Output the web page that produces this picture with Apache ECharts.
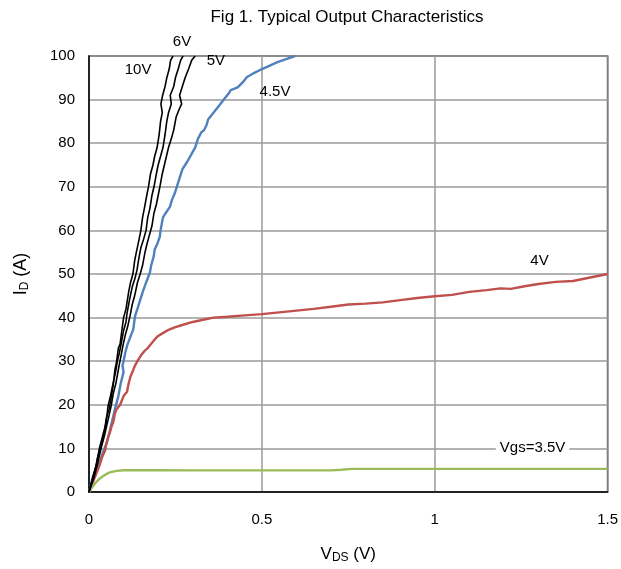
<!DOCTYPE html>
<html><head><meta charset="utf-8">
<script src="https://cdn.jsdelivr.net/npm/echarts@6/dist/echarts.min.js"></script>
<style>html,body{margin:0;padding:0;background:#fff}#c{width:621px;height:569px}</style>
</head><body><div id="c"></div>
<script>
const xTicks = [0, 0.5, 1, 1.5];
const yTicks = [0,10,20,30,40,50,60,70,80,90,100];

const v10 = [[0,0],[0.01,3],[0.02,6],[0.025,8],[0.035,10.5],[0.045,14],[0.05,17],[0.058,19],[0.065,22],[0.07,24.5],[0.075,28],[0.08,30],[0.085,33],[0.09,34],[0.095,37],[0.1,40],[0.107,42],[0.115,46],[0.12,48],[0.127,50],[0.132,53],[0.137,55],[0.145,58],[0.15,60],[0.155,63],[0.16,65],[0.167,68],[0.172,70],[0.178,73],[0.185,75],[0.19,77],[0.197,79],[0.203,82],[0.207,85],[0.212,87],[0.208,89],[0.213,91],[0.22,93],[0.225,95],[0.232,97],[0.236,99],[0.243,100]];
const v6 = [[0,0],[0.012,3.5],[0.022,6.5],[0.03,10],[0.04,13],[0.05,16],[0.055,19.7],[0.062,22],[0.07,25],[0.078,28],[0.082,30],[0.088,32],[0.093,34],[0.1,37],[0.107,39],[0.11,41],[0.117,44],[0.125,47],[0.133,49],[0.139,51],[0.145,54],[0.15,56],[0.158,58],[0.165,60],[0.17,63],[0.176,65],[0.182,68],[0.188,70],[0.195,73],[0.2,75],[0.207,77],[0.214,79],[0.22,82],[0.225,85],[0.23,87],[0.238,89],[0.235,91],[0.245,93],[0.25,95],[0.258,97],[0.265,99],[0.272,100]];
const v5 = [[0,0],[0.015,3.5],[0.025,6.5],[0.035,10],[0.045,13],[0.055,16.5],[0.064,19.7],[0.07,22.5],[0.078,25],[0.087,29],[0.092,31],[0.098,33.5],[0.105,36],[0.112,38],[0.119,40.5],[0.125,43],[0.132,45],[0.14,48],[0.148,50],[0.155,52],[0.162,55],[0.168,57],[0.175,59],[0.182,61],[0.188,64],[0.195,66],[0.2,68],[0.205,70],[0.212,73],[0.218,75],[0.224,77],[0.23,79],[0.238,81],[0.245,83],[0.252,86],[0.262,88],[0.268,89],[0.262,91],[0.27,93],[0.278,95],[0.288,97],[0.297,99],[0.307,100]];
const v45 = [[0,0],[0.012,3.7],[0.022,5.5],[0.032,7],[0.04,9],[0.052,11.4],[0.06,14],[0.066,16],[0.075,19],[0.085,22],[0.092,25],[0.1,27.5],[0.097,29],[0.1,30],[0.105,32],[0.11,33.5],[0.117,35],[0.128,37.3],[0.133,40.3],[0.14,42],[0.148,44],[0.156,46],[0.165,48],[0.176,50.3],[0.18,52],[0.187,54],[0.19,55.6],[0.198,57],[0.205,58.6],[0.207,60],[0.214,63],[0.222,64],[0.234,65.4],[0.24,67],[0.248,68.5],[0.254,70],[0.262,72],[0.27,74],[0.278,75],[0.286,76],[0.293,77],[0.3,78],[0.307,79],[0.315,81],[0.325,82.5],[0.333,83],[0.34,84.2],[0.345,85.5],[0.36,87],[0.375,88.5],[0.39,90],[0.405,91.5],[0.41,92.2],[0.43,92.8],[0.445,94],[0.457,95.2],[0.475,96],[0.495,96.8],[0.515,97.5],[0.545,98.6],[0.57,99.3],[0.596,100]];
const v4 = [[0,0],[0.01,2],[0.02,4],[0.03,6],[0.038,8],[0.046,9.4],[0.05,11],[0.055,12.5],[0.06,13.5],[0.065,15],[0.07,16],[0.075,18],[0.08,19],[0.09,20],[0.095,21],[0.1,22],[0.11,23],[0.115,25],[0.12,26.5],[0.128,28],[0.133,29],[0.14,30],[0.15,31.3],[0.16,32.3],[0.17,33],[0.18,34],[0.19,35],[0.2,35.8],[0.215,36.5],[0.23,37.2],[0.25,37.8],[0.27,38.3],[0.3,39],[0.33,39.5],[0.36,40],[0.4,40.2],[0.45,40.5],[0.5,40.8],[0.55,41.2],[0.6,41.6],[0.65,42],[0.7,42.5],[0.75,43],[0.8,43.2],[0.85,43.5],[0.9,44],[0.95,44.5],[1.0,44.9],[1.05,45.2],[1.1,45.9],[1.15,46.3],[1.19,46.7],[1.22,46.6],[1.26,47.2],[1.3,47.7],[1.35,48.2],[1.4,48.4],[1.45,49.2],[1.5,50]];
const v35 = [[0,0],[0.01,1.2],[0.02,2.2],[0.03,3],[0.04,3.6],[0.05,4.1],[0.06,4.5],[0.08,4.85],[0.1,5],[0.2,5],[0.3,4.95],[0.5,4.95],[0.7,4.95],[0.73,5.1],[0.76,5.3],[1.0,5.3],[1.5,5.3]];

const seriesNames = ['10V','6V','5V','4.5V','4V','Vgs=3.5V'];
const labelPos = [[0.142,96.8],[0.269,100],[0.367,98.9],[0.538,91.8],[1.303,52.9],[1.283,10.1]];
const labelOffsets = [[0,0],[0,-14],[0,0],[0,0],[0,0],[0,0]];
const colors = ['#000000','#000000','#000000','#4F81BD','#C0504D','#9BBB59'];
const widths = [1.6,1.6,1.6,2.4,2.4,2.4];
const datasets = [v10,v6,v5,v45,v4,v35];

const FONT = 'Liberation Sans, Arial, sans-serif';
const chart = echarts.init(document.getElementById('c'), null, {renderer:'canvas'});
const series = datasets.map((d,i)=>({
  type:'line', name:seriesNames[i], data:d, showSymbol:false, symbol:'none',
  lineStyle:{color:colors[i], width:widths[i]}, z: i<3?3:2, clip:false,
  markPoint:{symbol:'circle', symbolSize:0, silent:true, animation:false,
    data:[{coord:labelPos[i], value:seriesNames[i]}],
    label:{show:true, position:'inside', offset:labelOffsets[i], formatter:seriesNames[i], color:'#000', fontSize:15, fontFamily:FONT,
      backgroundColor: i===5?'#fff':'transparent', padding: i===5?[1,4]:0}}
}));

chart.setOption({
  animation:false,
  title:{text:'Fig 1. Typical Output Characteristics', left:342, top:4, textAlign:'center',
    textStyle:{fontSize:17, fontWeight:'normal', color:'#000', fontFamily:FONT}},
  grid:{left:89, top:56, right:13, bottom:76, show:true, borderColor:'#333', borderWidth:1.5, backgroundColor:'transparent'},
  xAxis:{type:'value', min:0, max:1.5, interval:0.5,
    axisLine:{show:true, onZero:false, lineStyle:{color:'#000', width:1.5}},
    axisTick:{show:false},
    splitLine:{show:true, lineStyle:{color:'#9a9a9a', width:1.5}},
    axisLabel:{margin:20, color:'#000', fontSize:15, fontFamily:FONT, formatter:v=>String(v)},
    name:'{a|V}{b|DS}{a| (V)}', nameLocation:'middle', nameGap:52,
    nameTextStyle:{rich:{a:{fontSize:17, color:'#000', fontFamily:FONT}, b:{fontSize:12, color:'#000', fontFamily:FONT, verticalAlign:'bottom', padding:[8,0,0,0]}}}},
  yAxis:{type:'value', min:0, max:100, interval:10,
    axisLine:{show:true, lineStyle:{color:'#000', width:1.5}},
    axisTick:{show:false},
    splitLine:{show:true, lineStyle:{color:'#9a9a9a', width:1.5}},
    axisLabel:{margin:14, color:'#000', fontSize:15, fontFamily:FONT},
    name:'{a|I}{b|D}{a| (A)}', nameLocation:'middle', nameGap:58, nameRotate:90,
    nameTextStyle:{rich:{a:{fontSize:18, color:'#000', fontFamily:FONT}, b:{fontSize:12, color:'#000', fontFamily:FONT, padding:[8,0,0,0]}}}},
  series: series
});
</script></body></html>
